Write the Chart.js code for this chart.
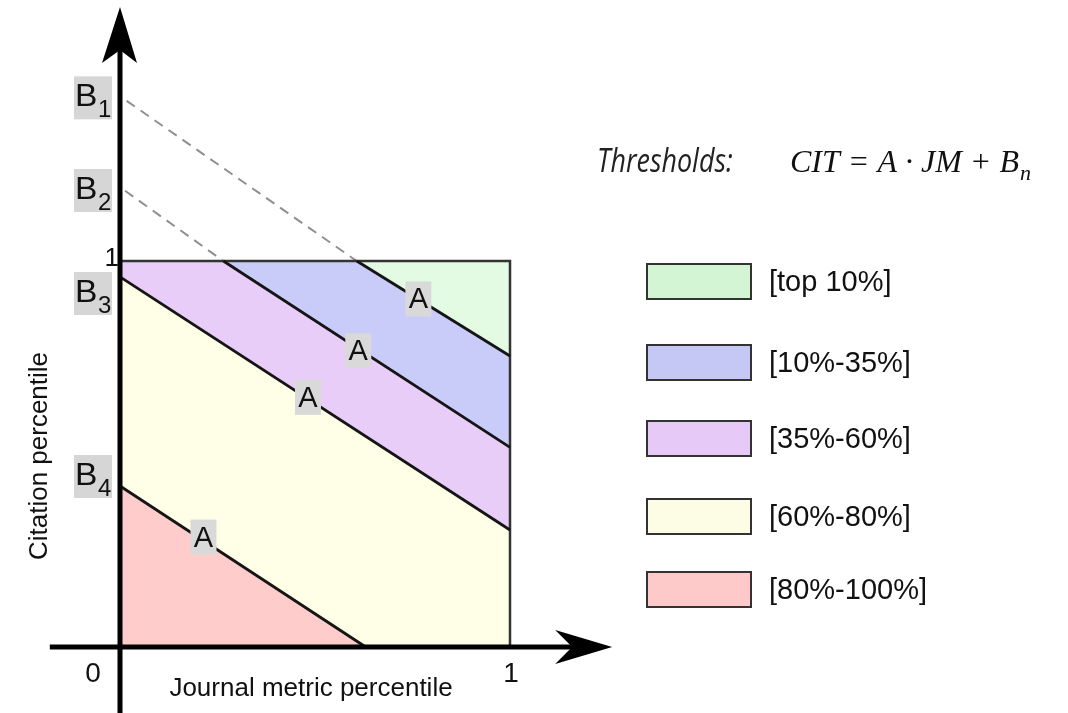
<!DOCTYPE html>
<html><head><meta charset="utf-8">
<script src="https://cdn.jsdelivr.net/npm/chart.js@4"></script>
<style>html,body{margin:0;padding:0;background:#fff}#wrap{width:1068px;height:713px;position:relative}</style>
</head><body><div id="wrap"><canvas id="c"></canvas></div>
<script>
// ---------- data (unit square: JM 0..1, CIT 0..1) ----------
const categories = ['[top 10%]', '[10%-35%]', '[35%-60%]', '[60%-80%]', '[80%-100%]'];
const regionColors = ['#e3fae3', '#c9ccf9', '#e9cdf9', '#ffffe8', '#ffcccc'];
const legendColors = ['#d3f5d3', '#c5c8f5', '#e7c9f7', '#fdfde6', '#fdc9c9'];
// threshold lines CIT = A*JM + Bn, clipped to the unit square (B1, B2, B3, B4)
const bLabels = ['1', '2', '3', '4'];
const bValues = [1.424, 1.184, 0.917, 0.443];          // label positions on the CIT axis
const lineStartX = [0.607, 0.265, 0.000, 0.000];
const lineStartY = [1.000, 1.000, 0.959, 0.417];
const lineEndX   = [1.000, 1.000, 1.000, 0.630];
const lineEndY   = [0.754, 0.517, 0.303, 0.000];
// dashed extensions above the square (B1, B2)
const dashStartX = [0.017, 0.013];
const dashStartY = [1.415, 1.182];
// "A" label positions on the lines
const aLabelX = [0.765, 0.611, 0.482, 0.214];
const aLabelY = [0.903, 0.769, 0.648, 0.286];
// axis ticks
const xTickLabels = ['0', '1'];
const xTickValues = [0, 1];
const yTickLabel = '1';
// axis extents (arrow tips)
const xAxisFrom = -0.18, xAxisTo = 1.262;
const yAxisFrom = -0.2, yAxisTo = 1.658;

// ---------- build polygons from the lines ----------
const P = (x, y) => ({x, y});
const polys = [
  [P(lineStartX[0],1), P(1,1), P(1,lineEndY[0])],
  [P(lineStartX[1],1), P(lineStartX[0],1), P(1,lineEndY[0]), P(1,lineEndY[1])],
  [P(0,lineStartY[2]), P(0,1), P(lineStartX[1],1), P(1,lineEndY[1]), P(1,lineEndY[2])],
  [P(0,lineStartY[3]), P(0,lineStartY[2]), P(1,lineEndY[2]), P(1,0), P(lineEndX[3],0)],
  [P(0,0), P(0,lineStartY[3]), P(lineEndX[3],0)]
];
const datasets = [];
polys.forEach((pts, i) => datasets.push({
  label: categories[i], data: pts.concat([pts[0]]), showLine: true, fill: 'shape',
  backgroundColor: regionColors[i], borderWidth: 0, pointRadius: 0, order: 10
}));
// dashed extensions
dashStartX.forEach((sx, i) => datasets.push({
  data: [P(sx, dashStartY[i]), P(lineStartX[i], lineStartY[i])], showLine: true, fill: false,
  borderColor: '#8f8f8f', borderWidth: 2, borderDash: [10, 7], pointRadius: 0, order: 5
}));
// square outline (top and right)
datasets.push({data: [P(0,1), P(1,1), P(1,0)], showLine: true, fill: false,
  borderColor: '#333', borderWidth: 2.5, pointRadius: 0, order: 4});
// threshold lines
lineStartX.forEach((sx, i) => datasets.push({
  data: [P(sx, lineStartY[i]), P(lineEndX[i], lineEndY[i])], showLine: true, fill: false,
  borderColor: '#151515', borderWidth: 2.8, pointRadius: 0, order: 3
}));
// axes
datasets.push({data: [P(xAxisFrom,0), P(xAxisTo - 0.09,0)], showLine: true, fill: false,
  borderColor: '#000', borderWidth: 5, pointRadius: 0, order: 2});
datasets.push({data: [P(0,yAxisFrom), P(0,yAxisTo - 0.09)], showLine: true, fill: false,
  borderColor: '#000', borderWidth: 5, pointRadius: 0, order: 2});

// ---------- decorations / text ----------
const SANS = '"Liberation Sans", Arial, sans-serif';
const deco = {
  id: 'deco',
  afterDatasetsDraw(chart) {
    const {ctx, scales: {x, y}} = chart;
    const X = v => x.getPixelForValue(v), Y = v => y.getPixelForValue(v);
    ctx.save();
    // arrowheads
    ctx.fillStyle = '#000';
    let tx = X(0), ty = Y(yAxisTo);
    ctx.beginPath(); ctx.moveTo(tx, ty); ctx.lineTo(tx + 17, ty + 56); ctx.lineTo(tx, ty + 43);
    ctx.lineTo(tx - 18, ty + 56); ctx.closePath(); ctx.fill();
    tx = X(xAxisTo); ty = Y(0);
    ctx.beginPath(); ctx.moveTo(tx, ty); ctx.lineTo(tx - 57, ty - 17); ctx.lineTo(tx - 40, ty);
    ctx.lineTo(tx - 57, ty + 17); ctx.closePath(); ctx.fill();

    // "A" labels with grey backgrounds
    ctx.textAlign = 'center'; ctx.textBaseline = 'middle';
    aLabelX.forEach((ax, i) => {
      const px = X(ax), py = Y(aLabelY[i]);
      ctx.fillStyle = '#d9d9d9'; ctx.fillRect(px - 13, py - 17, 26, 35);
      ctx.fillStyle = '#111'; ctx.font = '29px ' + SANS;
      ctx.fillText('A', px, py + 2);
    });
    // B labels
    bValues.forEach((bv, i) => {
      const py = Y(bv), left = X(0) - 46;
      ctx.fillStyle = '#d6d6d6'; ctx.fillRect(left, py - 21, 38, 43);
      ctx.fillStyle = '#111';
      ctx.textAlign = 'left'; ctx.textBaseline = 'alphabetic';
      ctx.font = '32px ' + SANS;
      ctx.save(); ctx.translate(left + 1, py + 9); ctx.scale(1.05, 1); ctx.fillText('B', 0, 0); ctx.restore();
      ctx.font = '24px ' + SANS;
      ctx.fillText(bLabels[i], left + 24, py + 20);
    });
    // ticks
    ctx.fillStyle = '#111'; ctx.font = '28px ' + SANS; ctx.textAlign = 'center'; ctx.textBaseline = 'middle';
    xTickValues.forEach((v, i) => ctx.fillText(xTickLabels[i], X(v) + (v === 0 ? -27 : 1), Y(0) + 27));
    ctx.font = '26px ' + SANS; ctx.textAlign = 'right';
    ctx.fillText(yTickLabel, X(0) - 1, Y(1) - 2);
    // axis titles
    ctx.font = '26px ' + SANS; ctx.textAlign = 'center'; ctx.textBaseline = 'middle';
    ctx.fillText('Journal metric percentile', X(0.5) - 4, Y(0) + 42);
    ctx.save(); ctx.translate(40, Y(0.5) + 2); ctx.rotate(-Math.PI / 2);
    ctx.fillText('Citation percentile', 0, 0); ctx.restore();

    // formula
    ctx.textAlign = 'left'; ctx.textBaseline = 'alphabetic';
    ctx.font = 'italic 32px "Open Sans", "Noto Sans", sans-serif'; ctx.fillStyle = '#222';
    ctx.save(); ctx.translate(597, 172); ctx.scale(0.84, 1); ctx.fillText('Thresholds:', 0, 0); ctx.restore();
    ctx.font = 'italic 32px "Liberation Serif", "DejaVu Serif", serif'; ctx.fillStyle = '#111';
    const f = 'CIT = A \u00B7 JM + B';
    ctx.fillText(f, 790, 172);
    const fw = ctx.measureText(f).width;
    ctx.font = 'italic 22px "Liberation Serif", serif';
    ctx.fillText('n', 790 + fw + 1, 180);

    // legend
    const tops = [264, 345, 421, 499, 572];
    categories.forEach((c, i) => {
      ctx.fillStyle = legendColors[i]; ctx.fillRect(647, tops[i], 104, 35);
      ctx.strokeStyle = '#333'; ctx.lineWidth = 2; ctx.strokeRect(647, tops[i], 104, 35);
      ctx.fillStyle = '#111'; ctx.font = '29px ' + SANS; ctx.textBaseline = 'middle';
      ctx.fillText(c, 769, tops[i] + 19);
    });
    ctx.restore();
  }
};

// scales: place JM 0..1 at px 120..510 and CIT 0..1 at px 647..261 on a full-size chart area
const W = 1068, H = 713, x0 = 120, xu = 390, y0 = 647, yu = 386;
new Chart(document.getElementById('c'), {
  type: 'scatter',
  data: {datasets},
  options: {
    responsive: true, maintainAspectRatio: false, animation: false,
    layout: {padding: 0},
    plugins: {legend: {display: false}, tooltip: {enabled: false}},
    scales: {
      x: {type: 'linear', display: false, min: -x0 / xu, max: (W - x0) / xu},
      y: {type: 'linear', display: false, min: -(H - y0) / yu, max: y0 / yu}
    },
    elements: {line: {tension: 0}}
  },
  plugins: [deco]
});
</script></body></html>
